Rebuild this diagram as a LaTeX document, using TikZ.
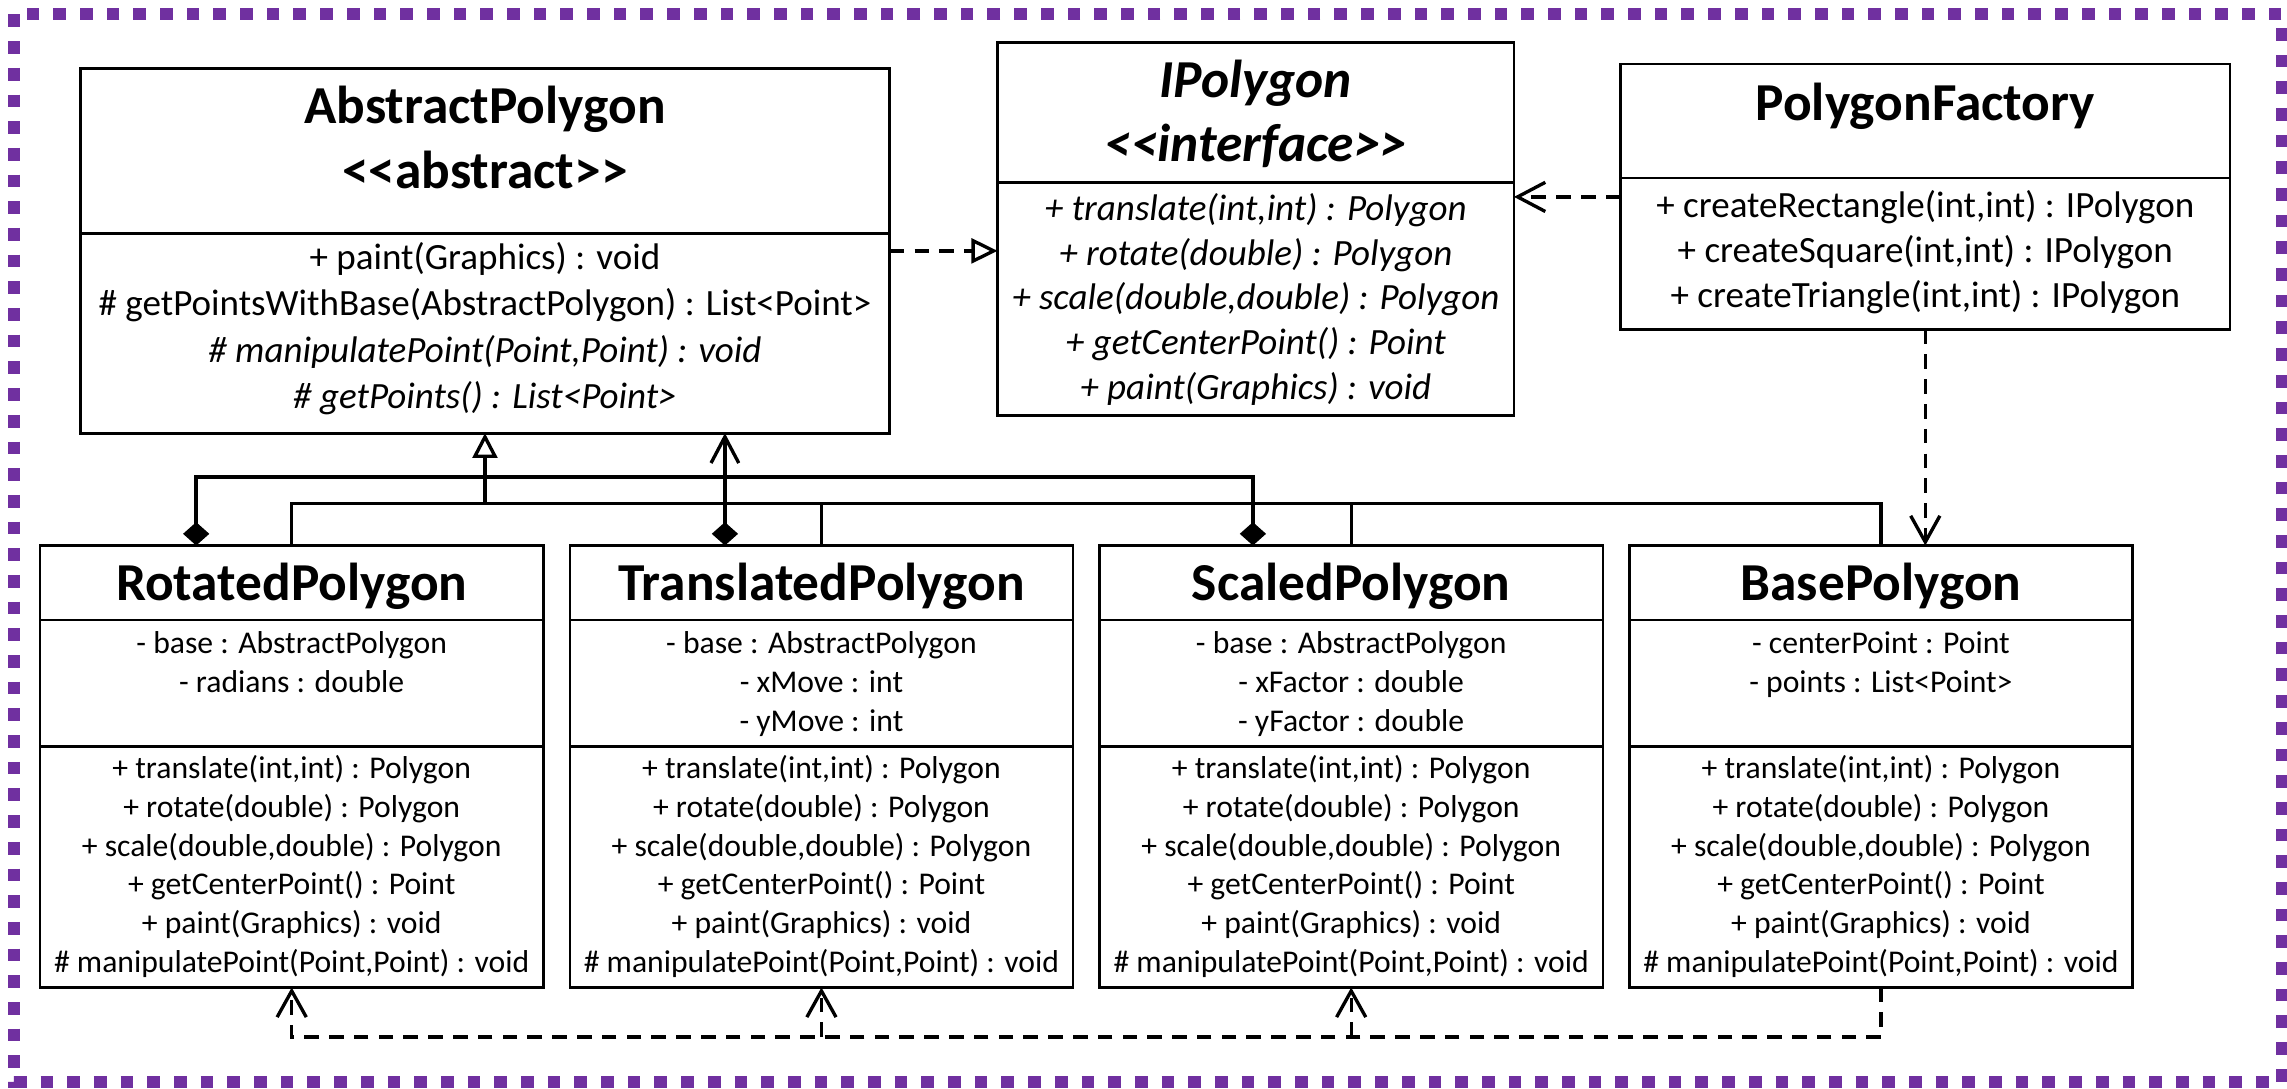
\documentclass[tikz,border=0pt]{standalone}
\usepackage{fontspec}
\setmainfont{Carlito}
\usetikzlibrary{arrows.meta,calc}
\definecolor{bord}{HTML}{7030A0}
\newcommand{\dlt}{<\kern0pt<}
\newcommand{\dgt}{>\kern0pt>}
\newcommand{\lowclass}[4]{%
  \node[box, minimum width=345pt, minimum height=303pt] (#1) at (#2,525.5) {};
  \draw[boxline] ($(#1.north west)+(0,51)$) -- ($(#1.north east)+(0,51)$);
  \draw[boxline] ($(#1.north west)+(0,138)$) -- ($(#1.north east)+(0,138)$);
  \node[ttl] (#1-t) at (#2,402) {#3};
  \foreach \a [count=\i] in {#4} {\node[lb] (#1-a\i) at (#2,{442+(\i-1)*26.7}) {\a};}
  \foreach \m [count=\i] in {{+ translate(int,int) : Polygon},{+ rotate(double) : Polygon},{+ scale(double,double) : Polygon},{+ getCenterPoint() : Point},{+ paint(Graphics) : void},{\# manipulatePoint(Point,Point) : void}}
    {\node[lb] (#1-m\i) at (#2,{528+(\i-1)*26.55}) {\m};}
}
\begin{document}
\begin{tikzpicture}[x=1pt,y=-1pt,
  box/.style={draw, line width=1.8pt, inner sep=0pt, outer sep=0pt, fill=white},
  boxline/.style={line width=1.8pt},
  ttl/.style={font=\fontsize{36.6}{44}\selectfont\bfseries, anchor=base, yshift=-9.9pt, inner sep=0pt},
  ub/.style={font=\fontsize{25.4}{31}\selectfont, anchor=base, yshift=-6.9pt, inner sep=0pt},
  lb/.style={font=\fontsize{21.7}{26.5}\selectfont, anchor=base, yshift=-5.9pt, inner sep=0pt},
  conn/.style={line width=2.3pt},
  dconn/.style={line width=2.3pt, dash pattern=on 10pt off 7pt},
  opentri/.style={-{Triangle[open, length=17pt, width=17pt]}},
  barb/.style={-{Straight Barb[length=18pt, width=20pt]}}
]
\useasboundingbox (0,0) rectangle (1568,746);
\fill[white] (0,0) rectangle (1568,746);
% border
\draw[bord, line width=8.2pt, dash pattern=on 8.7pt off 9.6pt] (9.6,9.9) rectangle (1564.5,742);

% AbstractPolygon
\node[box, minimum width=555pt, minimum height=250pt] (abs) at (332.5,172) {};
\draw[boxline] ($(abs.north west)+(0,113)$) -- ($(abs.north east)+(0,113)$);
\node[ttl] (abs-t1) at (332.5,75) {AbstractPolygon};
\node[ttl] (abs-t2) at (332.5,119) {\dlt abstract\dgt};
\node[ub] (abs-m1) at (332.5,178) {+ paint(Graphics) : void};
\node[ub] (abs-m2) at (332.5,209.7) {\# getPointsWithBase(AbstractPolygon) : List<Point>};
\node[ub] (abs-m3) at (332.5,241.4) {\itshape \# manipulatePoint(Point,Point) : void};
\node[ub] (abs-m4) at (332.5,273.1) {\itshape \# getPoints() : List<Point>};

% IPolygon
\node[box, minimum width=354pt, minimum height=256pt] (ipoly) at (861,157) {};
\draw[boxline] ($(ipoly.north west)+(0,96)$) -- ($(ipoly.north east)+(0,96)$);
\node[ttl] (ip-t1) at (861,57) {\itshape IPolygon};
\node[ttl] (ip-t2) at (861,101) {\itshape \dlt interface\dgt};
\foreach \m [count=\i] in {{+ translate(int,int) : Polygon},{+ rotate(double) : Polygon},{+ scale(double,double) : Polygon},{+ getCenterPoint() : Point},{+ paint(Graphics) : void}}
  {\node[ub] (ip-m\i) at (861,{144+(\i-1)*30.8}) {\itshape \m};}

% PolygonFactory
\node[box, minimum width=418pt, minimum height=182pt] (fact) at (1320,135) {};
\draw[boxline] ($(fact.north west)+(0,78)$) -- ($(fact.north east)+(0,78)$);
\node[ttl] (fa-t) at (1320,73) {PolygonFactory};
\foreach \m [count=\i] in {{+ createRectangle(int,int) : IPolygon},{+ createSquare(int,int) : IPolygon},{+ createTriangle(int,int) : IPolygon}}
  {\node[ub] (fa-m\i) at (1320,{142+(\i-1)*31}) {\m};}

% lower classes
\lowclass{rot}{200}{RotatedPolygon}{{- base : AbstractPolygon},{- radians : double}}
\lowclass{tra}{563.2}{TranslatedPolygon}{{- base : AbstractPolygon},{- xMove : int},{- yMove : int}}
\lowclass{sca}{926.4}{ScaledPolygon}{{- base : AbstractPolygon},{- xFactor : double},{- yFactor : double}}
\lowclass{bas}{1289.6}{BasePolygon}{{- centerPoint : Point},{- points : List<Point>}}

% inheritance
\coordinate (inhbus) at (332.5,345);
\draw[conn] (rot.north) -- (rot.north |- inhbus) -- (bas.north |- inhbus) -- (bas.north);
\draw[conn] (tra.north) -- (tra.north |- inhbus);
\draw[conn] (sca.north) -- (sca.north |- inhbus);
\draw[conn, opentri] (inhbus) -- (abs.south);

% composition
\coordinate (cb1) at (134.5,327);
\coordinate (cb2) at (497,327);
\coordinate (cb3) at (859,327);
\draw[conn, {Diamond[length=16pt, width=18pt]}-{Diamond[length=16pt, width=18pt]}] (rot.north -| cb1) -- (cb1) -- (cb3) -- (sca.north -| cb3);
\draw[conn, {Diamond[length=16pt, width=18pt]}-{Straight Barb[length=18pt, width=19pt]}] (tra.north -| cb2) -- (abs.south -| cb2);

% realization
\draw[dconn, -{Triangle[open, length=18pt, width=17pt]}] (abs.east) -- (ipoly.west |- abs.east);
% dependencies
\draw[dconn, -{Straight Barb[length=19pt, width=20pt]}] (fact.west) -- (ipoly.east |- fact.west);
\draw[dconn, barb] (fact.south) -- (bas.north -| fact.south);
\coordinate (dbus) at (0,711);
\draw[dconn, barb] (bas.south) -- (bas.south |- dbus) -- (rot.south |- dbus) -- (rot.south);
\draw[dconn, barb] (tra.south |- dbus) -- (tra.south);
\draw[dconn, barb] (sca.south |- dbus) -- (sca.south);
\end{tikzpicture}
\end{document}
